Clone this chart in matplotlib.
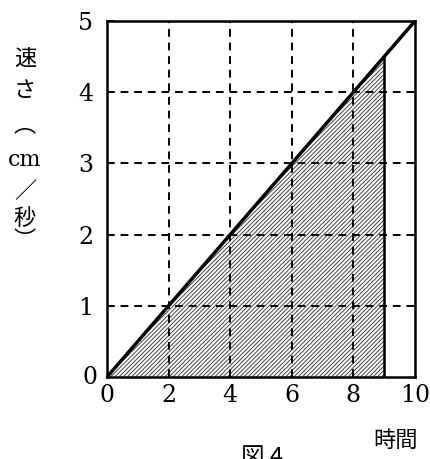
import numpy as np
import matplotlib.pyplot as plt

# data
t_line = [0, 10]          # time (s)
v_line = [0, 5]           # speed (cm/s)
t_fill = [0, 9]           # shaded interval
v_fill = [0, 4.5]
x_ticks = [0, 2, 4, 6, 8, 10]
y_ticks = [1, 2, 3, 4, 5]
ylabel_chars = ['速', 'さ', '︵', 'cm', '／', '秒', '︶']

W, H = 430, 459
fig = plt.figure(figsize=(W / 100, H / 100), dpi=100)
ax = fig.add_axes([107 / W, 1 - 377 / H, (415 - 107) / W, (377 - 21) / H])

ax.set_xlim(0, 10)
ax.set_ylim(0, 5)

# grid
for x in x_ticks[1:-1]:
    ax.plot([x, x], [0, 5], color='black', lw=1.4, ls=(0, (4, 3)))
for y in y_ticks[:-1]:
    ax.plot([0, 10], [y, y], color='black', lw=1.4, ls=(0, (4, 3)))

# shaded area
plt.rcParams['hatch.linewidth'] = 0.7
ax.fill_between(t_fill, v_fill, 0, facecolor='white', edgecolor='#444444',
                hatch='////////', lw=0)
ax.plot([t_fill[1], t_fill[1]], [0, v_fill[1]], color='black', lw=1.8)
ax.plot(t_line, v_line, color='black', lw=2.5)

for s in ax.spines.values():
    s.set_linewidth(1.8)

serif = 'DejaVu Serif'
ax.set_xticks(x_ticks)
ax.set_xticklabels([str(v) for v in x_ticks], fontsize=17, family=serif)
ax.set_yticks(y_ticks)
ax.set_yticklabels([str(v) for v in y_ticks], fontsize=17, family=serif)
ax.tick_params(axis='x', length=0, pad=5)
ax.tick_params(axis='y', direction='in', length=5, width=1.5, pad=10)
fig.text(97 / W, 1 - 378 / H, '0', fontsize=17, family=serif,
         ha='right', va='center')

# vertical y label
ys = [58, 90, 125, 160, 192, 218, 240]
for ch, yp in zip(ylabel_chars, ys):
    fam = serif if ch == 'cm' else 'Noto Sans CJK JP'
    fig.text(25 / W, 1 - yp / H, ch, fontsize=16, family=fam,
             ha='center', va='center')

fig.text(396 / W, 1 - 440 / H, '時間', fontsize=16,
         family='Noto Sans CJK JP', ha='center', va='center')
fig.text(262 / W, 1 - 446 / H, '図 4', fontsize=17,
         family='Noto Sans CJK JP', ha='center', va='top')

fig.savefig('out.png', dpi=100)
